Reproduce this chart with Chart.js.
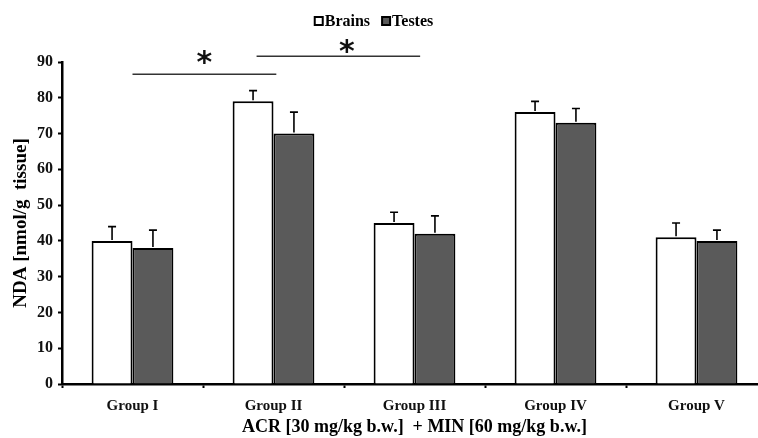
<!DOCTYPE html>
<html>
<head>
<meta charset="utf-8">
<script src="https://cdn.jsdelivr.net/npm/chart.js@4.4.0/dist/chart.umd.min.js"></script>
<style>
	html, body { margin: 0; padding: 0; background: #fff; overflow: hidden; }
	#wrap { width: 768px; height: 438px; }
</style>
</head>
<body>
<div id="wrap"><canvas id="ndaChart"></canvas></div>
<script>
// data
const groups = ["Group I", "Group II", "Group III", "Group IV", "Group V"];
const brains = [40, 79, 45, 76, 41];
const brainsSd = [4, 3, 3, 3, 4];
const testes = [38, 70, 42, 73, 40];
const testesSd = [5, 6, 5, 4, 3];

// significance bars (category index units, y in data units)
const sigFrom = [0, 0.88];
const sigTo = [1.02, 2.04];
const sigLevel = [86.6, 91.6];
const sigStarX = [0.51, 1.52];
const sigStarLevel = [91.1, 94.1];

const serif = "'Liberation Serif', 'Times New Roman', serif";

const errorBars = {
	id: "errorBars",
	afterDatasetsDraw: (chart) => {
		const ctx = chart.ctx;
		const y = chart.scales.y;
		const sds = [brainsSd, testesSd];
		ctx.save();
		ctx.strokeStyle = "#000";
		ctx.lineWidth = 1.6;
		chart.data.datasets.forEach((ds, d) => {
			chart.getDatasetMeta(d).data.forEach((bar, i) => {
				const top = y.getPixelForValue(ds.data[i] + sds[d][i]);
				ctx.beginPath();
				ctx.moveTo(bar.x, bar.y - 1);
				ctx.lineTo(bar.x, top);
				ctx.moveTo(bar.x - 4, top);
				ctx.lineTo(bar.x + 4, top);
				ctx.stroke();
			});
		});
		ctx.restore();
	},
};

const significance = {
	id: "significance",
	afterDraw: (chart) => {
		const ctx = chart.ctx;
		const x = chart.scales.x;
		const y = chart.scales.y;
		ctx.save();
		ctx.strokeStyle = "#333";
		ctx.lineWidth = 1.5;
		ctx.fillStyle = "#111";
		ctx.font = "bold 30px 'DejaVu Sans', sans-serif";
		ctx.textAlign = "center";
		ctx.textBaseline = "alphabetic";
		for (let k = 0; k < sigFrom.length; k++) {
			const py = y.getPixelForValue(sigLevel[k]);
			ctx.beginPath();
			ctx.moveTo(x.getPixelForValue(sigFrom[k]), py);
			ctx.lineTo(x.getPixelForValue(sigTo[k]), py);
			ctx.stroke();
			// the glyph sits about 14px above its baseline
			ctx.fillText("*", x.getPixelForValue(sigStarX[k]), y.getPixelForValue(sigStarLevel[k]) + 14);
		}
		ctx.restore();
	},
};

// legend drawn by hand so the box sits tight against its label
const tightLegend = {
	id: "tightLegend",
	afterDraw: (chart) => {
		const ctx = chart.ctx;
		ctx.save();
		ctx.font = "bold 16px " + serif;
		ctx.textBaseline = "middle";
		ctx.textAlign = "left";
		const items = chart.data.datasets.map((ds) => ({
			label: ds.label,
			fill: ds.backgroundColor,
			w: ctx.measureText(ds.label).width,
		}));
		const box = 8, gap = 2, space = 12;
		let total = 0;
		items.forEach((it, i) => { total += box + gap + it.w + (i ? space : 0); });
		let cx = 374 - total / 2;
		const cy = 21;
		items.forEach((it) => {
			ctx.fillStyle = it.fill;
			ctx.fillRect(cx, cy - box / 2, box, box);
			ctx.strokeStyle = "#000";
			ctx.lineWidth = 2;
			ctx.strokeRect(cx, cy - box / 2, box, box);
			ctx.fillStyle = "#000";
			ctx.fillText(it.label, cx + box + gap, cy + 1);
			cx += box + gap + it.w + space;
		});
		ctx.restore();
	},
};

const ctx = document.getElementById("ndaChart");
new Chart(ctx, {
	type: "bar",
	data: {
		labels: groups,
		datasets: [
			{
				label: "Brains",
				data: brains,
				backgroundColor: "#ffffff",
				borderColor: "#000",
				borderWidth: 2,
				borderSkipped: "bottom",
			},
			{
				label: "Testes",
				data: testes,
				backgroundColor: "#5a5a5a",
				borderColor: "#000",
				borderWidth: 2,
				borderSkipped: "bottom",
			},
		],
	},
	options: {
		responsive: true,
		maintainAspectRatio: false,
		animation: false,
		categoryPercentage: 0.58,
		barPercentage: 1.0,
		layout: { padding: { top: 62, left: 0, right: 1, bottom: 0 } },
		plugins: {
			tooltip: { enabled: false },
			legend: { display: false },
		},
		scales: {
			x: {
				afterFit: (s) => { s.height = 54; },
				border: { display: true, color: "#000", width: 2.5 },
				grid: {
					offset: true,
					drawOnChartArea: false,
					drawTicks: true,
					tickLength: 4,
					tickColor: "#000",
					tickWidth: 2,
				},
				ticks: {
					color: "#111",
					padding: 9,
					font: { family: serif, size: 15, weight: "bold" },
				},
				title: {
					display: true,
					text: "ACR [30 mg/kg b.w.]  + MIN [60 mg/kg b.w.]",
					color: "#000",
					padding: { top: 0, bottom: 0 },
					font: { family: serif, size: 18, weight: "bold" },
				},
			},
			y: {
				min: 0,
				max: 90,
				afterFit: (s) => { s.width = 62; },
				border: { display: true, color: "#000", width: 2.5 },
				grid: {
					drawOnChartArea: false,
					drawTicks: true,
					tickLength: 4,
					tickColor: "#000",
					tickWidth: 2,
				},
				ticks: {
					stepSize: 10,
					color: "#111",
					padding: 5,
					font: { family: serif, size: 16, weight: "bold" },
				},
				title: {
					display: true,
					text: "NDA [nmol/g  tissue]",
					color: "#000",
					padding: { top: 10, bottom: 0 },
					font: { family: serif, size: 19, weight: "bold" },
				},
			},
		},
	},
	plugins: [errorBars, significance, tightLegend],
});
</script>
</body>
</html>
